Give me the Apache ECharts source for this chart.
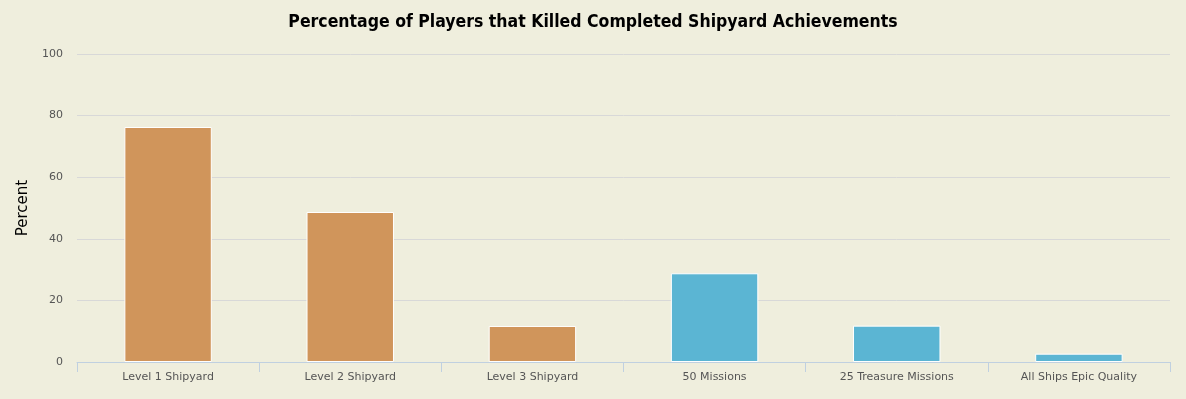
<!DOCTYPE html>
<html>
<head>
<meta charset="utf-8">
<script src="https://cdn.jsdelivr.net/npm/echarts@6/dist/echarts.min.js"></script>
<style>
html,body{margin:0;padding:0;background:#EFEEDD;}
#c{width:1186px;height:399px;}
</style>
</head>
<body>
<div id="c"></div>
<script>
const categories = ["Level 1 Shipyard","Level 2 Shipyard","Level 3 Shipyard","50 Missions","25 Treasure Missions","All Ships Epic Quality"];
const values = [76.3, 48.7, 11.7, 28.8, 11.8, 2.7];
const groups = ["shipyard","shipyard","shipyard","missions","missions","missions"];
const groupColors = {shipyard:"#D0955B", missions:"#5BB5D3"};
const yTicks = [0,20,40,60,80,100];

const chart = echarts.init(document.getElementById('c'));
chart.setOption({
  backgroundColor:"#EFEEDD",
  animation:false,
  title:{
    text:"Percentage of Players that Killed Completed Shipyard Achievements",
    left:"center", top:8,
    textStyle:{fontFamily:"DejaVu Sans Condensed", fontWeight:"bold", fontSize:17.5, color:"#000"}
  },
  grid:{left:77, right:16, top:54, bottom:37},
  xAxis:{
    type:"category", data:categories,
    axisLine:{lineStyle:{color:"#C0D0E0"}},
    axisTick:{show:true, length:10, lineStyle:{color:"#C0D0E0"}},
    axisLabel:{color:"#555", fontFamily:"DejaVu Sans", fontSize:11, margin:10}
  },
  yAxis:{
    type:"value", min:yTicks[0], max:yTicks[yTicks.length-1], interval:20,
    name:"Percent", nameLocation:"middle", nameGap:42, nameRotate:90,
    nameTextStyle:{color:"#000", fontFamily:"DejaVu Sans", fontSize:15},
    axisLine:{show:false}, axisTick:{show:false},
    axisLabel:{color:"#555", fontFamily:"DejaVu Sans", fontSize:11, margin:14},
    splitLine:{lineStyle:{color:"#D8D8D8"}}
  },
  series:[{
    type:"bar", barWidth:"48%",
    data: values.map((v,i)=>({value:v, itemStyle:{color:groupColors[groups[i]]}})),
    itemStyle:{borderColor:"#fff", borderWidth:1}
  }]
});
</script>
</body>
</html>
